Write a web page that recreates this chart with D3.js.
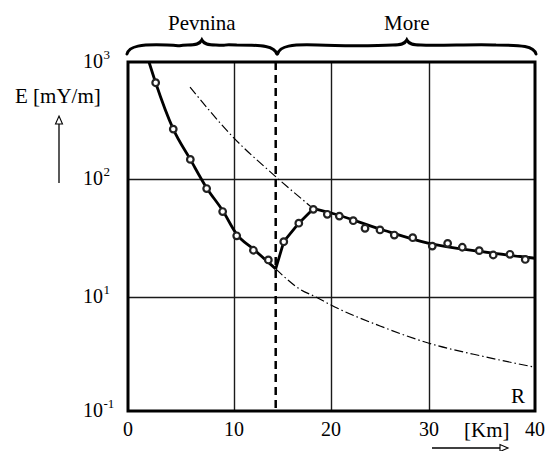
<!DOCTYPE html>
<html>
<head>
<meta charset="utf-8">
<script src="https://cdn.jsdelivr.net/npm/d3@7"></script>
<style>
  body { margin: 0; background: #fff; }
</style>
</head>
<body>
<div id="chart"></div>
<script>
// ticks
const xTicks = [0, 10, 20, 30, 40];
const xTickLabels = ['0', '10', '20', '30', '40'];
const yTicks = [1, 10, 100, 1000];
const yTickBase = ['10', '10', '10', '10'];
const yTickExp = ['-1', '1', '2', '3'];

// measured points (circles)
const pointR = [2.61, 4.27, 5.88, 7.42, 8.93, 10.28, 12.0, 13.54,
                15.13, 16.68, 18.18, 19.62, 20.85, 22.27, 23.47, 25.0, 26.46, 28.34,
                30.31, 31.76, 33.14, 34.74, 36.06, 37.64, 39.08];
const pointE = [665, 267, 147, 83, 53, 33, 24.9, 20.6,
                29.4, 42.2, 55.3, 50.2, 48.5, 44.3, 38.2, 37, 33.5, 31.8,
                27, 28.5, 26.4, 24.7, 22.7, 23, 20.8];

// fitted curve: land part, sea rise, sea fall
const landR = [1.98, 2.61, 4.27, 5.88, 7.42, 8.93, 10.28, 12.0, 14.3];
const landE = [1000, 665, 267, 147, 84, 54, 34, 25.5, 17.3];
const riseR = [14.3, 15.13, 16.68, 18.18];
const riseE = [17.3, 29.4, 42.2, 56];
const fallR = [18.18, 20, 25, 30, 35, 40];
const fallE = [56, 51.5, 37.7, 28.5, 24.2, 21.3];

// dash-dot curves
const upperR = [5.85, 9.93, 14.12, 18.18];
const upperE = [611, 227, 108, 56];
const lowerR = [14.3, 16.91, 18.45, 20, 25, 30, 35.2, 40];
const lowerE = [17.3, 11.5, 10, 8.5, 5.57, 3.93, 3.0, 2.42];

// border between land and sea
const coastR = 14.3;
const regions = [
  {name: 'Pevnina', from: 0, to: 14.3},
  {name: 'More', from: 14.6, to: 40}
];

const W = 547, H = 451;
const serif = '"Liberation Serif"';
const svg = d3.select('#chart').append('svg')
  .attr('width', W).attr('height', H);

// hand drawn axes are not exactly even, so polylinear scales
const x = d3.scaleLinear().domain(xTicks).range([128, 234, 331, 429, 535]);
const y = d3.scaleLog().domain(yTicks).range([411, 297, 179, 62]);

const pLeft = x(0), pRight = x(40), pTop = y(1000), pBottom = y(1);

// grid
const gridX = svg.append('g')
  .attr('transform', `translate(0,${pBottom})`)
  .call(d3.axisBottom(x).tickValues([10, 20, 30]).tickSize(-(pBottom - pTop)).tickFormat(''));
const gridY = svg.append('g')
  .attr('transform', `translate(${pLeft},0)`)
  .call(d3.axisLeft(y).tickValues([10, 100]).tickSize(-(pRight - pLeft)).tickFormat(''));
[gridX, gridY].forEach(g => {
  g.select('.domain').remove();
  g.selectAll('line').attr('stroke', '#1a1a1a').attr('stroke-width', 1.4);
});

// frame
svg.append('rect')
  .attr('x', pLeft).attr('y', pTop)
  .attr('width', pRight - pLeft).attr('height', pBottom - pTop)
  .attr('fill', 'none').attr('stroke', '#000').attr('stroke-width', 3);

// coast line (dashed)
svg.append('line')
  .attr('x1', x(coastR)).attr('x2', x(coastR))
  .attr('y1', pTop).attr('y2', pBottom)
  .attr('stroke', '#000').attr('stroke-width', 2.5)
  .attr('stroke-dasharray', '8,5');

const zip = (a, b) => a.map((v, i) => [v, b[i]]);
const line = d3.line().x(d => x(d[0])).y(d => y(d[1]));

// dash-dot curves
[zip(upperR, upperE), zip(lowerR, lowerE)].forEach(d => {
  svg.append('path')
    .datum(d)
    .attr('d', line.curve(d3.curveMonotoneX))
    .attr('fill', 'none').attr('stroke', '#000').attr('stroke-width', 1.2)
    .attr('stroke-dasharray', '9,3,1.5,3');
});

// fitted curve
svg.append('path').datum(zip(landR, landE))
  .attr('d', line.curve(d3.curveMonotoneX))
  .attr('fill', 'none').attr('stroke', '#000').attr('stroke-width', 2.8);
svg.append('path').datum(zip(riseR, riseE))
  .attr('d', line.curve(d3.curveLinear))
  .attr('fill', 'none').attr('stroke', '#000').attr('stroke-width', 2.8)
  .attr('stroke-linejoin', 'round');
svg.append('path').datum(zip(fallR, fallE))
  .attr('d', line.curve(d3.curveMonotoneX))
  .attr('fill', 'none').attr('stroke', '#000').attr('stroke-width', 2.8);

// measured points
svg.selectAll('.pt')
  .data(zip(pointR, pointE))
  .enter().append('circle')
  .attr('class', 'pt')
  .attr('cx', d => x(d[0])).attr('cy', d => y(d[1]))
  .attr('r', 3.3)
  .attr('fill', '#fff').attr('stroke', '#222').attr('stroke-width', 2.2);

// x tick labels
svg.selectAll('.xl')
  .data(xTicks)
  .enter().append('text')
  .attr('class', 'xl')
  .attr('x', d => x(d)).attr('y', pBottom + 25)
  .attr('text-anchor', 'middle')
  .style('font-family', serif).style('font-size', '20px')
  .text((d, i) => xTickLabels[i]);

// y tick labels with exponent
const yl = svg.selectAll('.yl')
  .data(yTicks)
  .enter().append('g').attr('class', 'yl');
yl.append('text')
  .attr('x', 103).attr('y', d => y(d) + 6)
  .attr('text-anchor', 'end')
  .style('font-family', serif).style('font-size', '20px')
  .text((d, i) => yTickBase[i]);
yl.append('text')
  .attr('x', 103.5).attr('y', d => y(d) - 3)
  .style('font-family', serif).style('font-size', '13px')
  .text((d, i) => yTickExp[i]);

// axis titles
const label = (tx, ty, s) => svg.append('text')
  .attr('x', tx).attr('y', ty)
  .style('font-family', serif).style('font-size', '21px')
  .text(s);
label(15, 103, 'E [mY/m]');
label(464, 437, '[Km]');
label(511, 403, 'R');

// arrows
function arrow(x1, y1, x2, y2) {
  const a = Math.atan2(y2 - y1, x2 - x1);
  const L = 8, Wd = 3.5;
  const bx = x2 - L * Math.cos(a), by = y2 - L * Math.sin(a);
  const px = -Math.sin(a) * Wd, py = Math.cos(a) * Wd;
  svg.append('line')
    .attr('x1', x1).attr('y1', y1).attr('x2', bx).attr('y2', by)
    .attr('stroke', '#000').attr('stroke-width', 1.3);
  svg.append('path')
    .attr('d', `M${x2},${y2} L${bx + px},${by + py} L${bx - px},${by - py} Z`)
    .attr('fill', '#fff').attr('stroke', '#000').attr('stroke-width', 1.1);
}
arrow(59, 183, 59, 116);
arrow(432, 448, 508, 448);

// region braces
function brace(x0, x1, yb) {
  const xm = (x0 + x1) / 2;
  return `M${x0},${yb + 9} C${x0 + 2},${yb + 1} ${x0 + 14},${yb - 1} ${x0 + 40},${yb}` +
    ` C${x0 + 60},${yb + 1} ${xm - 30},${yb + 1} ${xm - 14},${yb}` +
    ` C${xm - 6},${yb} ${xm - 2},${yb - 1} ${xm},${yb - 5}` +
    ` C${xm + 2},${yb - 1} ${xm + 6},${yb} ${xm + 14},${yb}` +
    ` C${xm + 30},${yb + 1} ${x1 - 60},${yb - 1} ${x1 - 40},${yb}` +
    ` C${x1 - 14},${yb} ${x1 - 2},${yb + 1} ${x1},${yb + 9}`;
}
svg.selectAll('.brace')
  .data(regions)
  .enter().append('path')
  .attr('class', 'brace')
  .attr('d', d => brace(x(d.from) - 1, x(d.to) + 1, 45))
  .attr('fill', 'none').attr('stroke', '#000').attr('stroke-width', 3)
  .attr('stroke-linecap', 'round');
svg.selectAll('.rname')
  .data(regions)
  .enter().append('text')
  .attr('class', 'rname')
  .attr('x', d => (x(d.from) + x(d.to)) / 2)
  .attr('y', 30)
  .attr('text-anchor', 'middle')
  .style('font-family', serif).style('font-size', '21px')
  .text(d => d.name);
</script>
</body>
</html>
